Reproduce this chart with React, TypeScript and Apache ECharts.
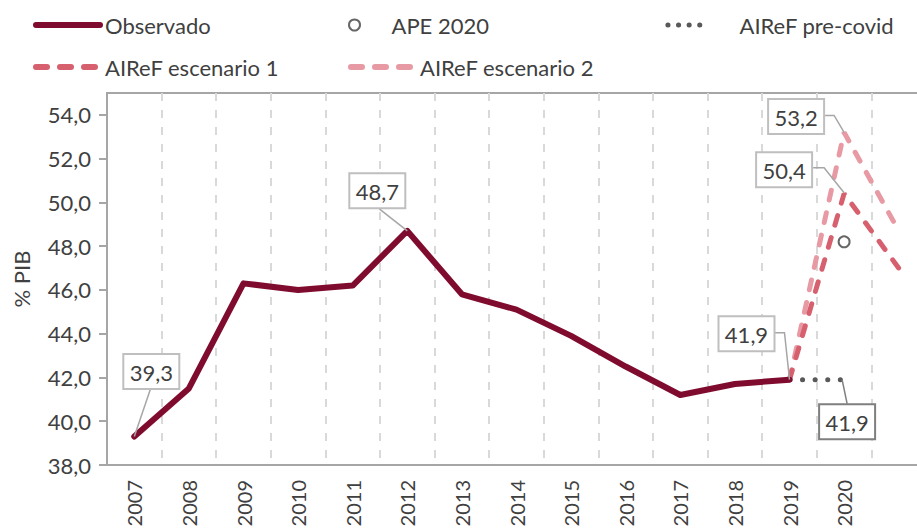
import React, { useEffect, useRef } from "react";
import * as echarts from "echarts";

const years = ["2007", "2008", "2009", "2010", "2011", "2012", "2013", "2014", "2015", "2016", "2017", "2018", "2019", "2020", "2021"];
const observado = [39.3, 41.5, 46.3, 46.0, 46.2, 48.7, 45.8, 45.1, 43.9, 42.5, 41.2, 41.7, 41.9, null, null];
const ape2020 = [null, null, null, null, null, null, null, null, null, null, null, null, null, 48.2, null];
const preCovid = [null, null, null, null, null, null, null, null, null, null, null, null, 41.9, 41.9, null];
const escenario1 = [null, null, null, null, null, null, null, null, null, null, null, null, 41.9, 50.4, 47.0];
const escenario2 = [null, null, null, null, null, null, null, null, null, null, null, null, 41.9, 53.2, 48.7];
const yTicks = [38, 40, 42, 44, 46, 48, 50, 52, 54];

const NAMES = {
  obs: "Observado",
  ape: "APE 2020",
  pre: "AIReF pre-covid",
  e1: "AIReF escenario 1",
  e2: "AIReF escenario 2",
};

// annotation placement (relative to the data point, in px) — styling only
const annotations = [
  { data: observado, idx: 0, dx: 17, dy: -65, leader: [[16, -47], [0, 0]], dark: false },
  { data: observado, idx: 5, dx: -30, dy: -40, leader: [[-28, -22], [0, 0]], dark: false },
  { data: observado, idx: 12, dx: -43, dy: -46, leader: [[-15, -47], [-5, -47], [0, 0]], dark: false },
  { data: preCovid, idx: 13, dx: 3, dy: 42, leader: [[-2, 0], [3, 24]], dark: true },
  { data: escenario1, idx: 13, dx: -60, dy: -24, leader: [[-31, -26], [-20, -26], [0, -1]], dark: false },
  { data: escenario2, idx: 13, dx: -48, dy: -16, leader: [[-19, -17], [-10, -17], [0, 0]], dark: false },
];

const FONT = 'Lato, "Open Sans", "DejaVu Sans", sans-serif';
const TXT = "#404040";
const C_OBS = "#7f0c2e";
const C_E1 = "#d7606f";
const C_E2 = "#e89aa4";
const C_PRE = "#595959";

const fmt = (v: number) => v.toFixed(1).replace(".", ",");

export default function App() {
  const ref = useRef<HTMLDivElement>(null);
  useEffect(() => {
    if (!ref.current) return;
    const chart = echarts.init(ref.current, null, { renderer: "svg" });
    const legendText = { fontFamily: FONT, fontSize: 22, color: TXT };
    const hideSym = { opacity: 0 };
    const option: any = {
      animation: false,
      backgroundColor: "#ffffff",
      textStyle: { fontFamily: FONT },
      grid: {
        left: 107, top: 93, right: 14, bottom: 64,
        show: true, borderColor: "#a6a6a6", borderWidth: 2,
        containLabel: false, outerBoundsMode: "none",
      },
      legend: [
        { data: [NAMES.obs], left: 33, top: 14, itemWidth: 64, itemHeight: 12, padding: 0, selectedMode: false, textStyle: legendText,
          itemStyle: hideSym, lineStyle: { width: 6, color: C_OBS, type: "solid", cap: "round" } },
        { data: [NAMES.ape], left: 348, top: 14, itemWidth: 64, itemHeight: 11, padding: 0, selectedMode: false, textStyle: legendText,
          itemStyle: { color: "#ffffff", borderColor: "#404040", borderWidth: 2 } },
        { data: [NAMES.pre], left: 663, top: 14, itemWidth: 44, itemHeight: 12, padding: 0, selectedMode: false,
          textStyle: { ...legendText, padding: [0, 0, 0, 25] },
          itemStyle: hideSym, lineStyle: { width: 5, color: C_PRE, type: [0.1, 10.5], cap: "round" } },
        { data: [NAMES.e1], left: 33, top: 56, itemWidth: 64, itemHeight: 12, padding: 0, selectedMode: false, textStyle: legendText,
          itemStyle: hideSym, lineStyle: { width: 6, color: C_E1, type: [11, 13], cap: "round" } },
        { data: [NAMES.e2], left: 348, top: 56, itemWidth: 64, itemHeight: 12, padding: 0, selectedMode: false, textStyle: legendText,
          itemStyle: hideSym, lineStyle: { width: 6, color: C_E2, type: [11, 13], cap: "round" } },
      ],
      xAxis: {
        type: "category",
        data: years,
        boundaryGap: true,
        axisLine: { lineStyle: { color: "#a6a6a6", width: 2 } },
        axisTick: { show: false },
        axisLabel: {
          rotate: 90,
          margin: 15,
          fontFamily: FONT,
          fontSize: 20,
          color: TXT,
          interval: 0,
          formatter: (v: string) => (v === "2021" ? "" : v),
        },
        splitLine: { show: true, interval: 0, lineStyle: { color: "#d9d9d9", width: 2, type: [8, 9] } },
      },
      yAxis: {
        type: "value",
        min: 38,
        max: 55,
        interval: 2,
        name: "% PIB",
        nameLocation: "middle",
        nameGap: 75,
        nameRotate: 90,
        nameTextStyle: { fontFamily: FONT, fontSize: 22, color: TXT },
        axisLine: { show: true, lineStyle: { color: "#a6a6a6", width: 2 } },
        axisTick: { show: true, length: 8, lineStyle: { color: "#a6a6a6", width: 2 }, customValues: yTicks },
        axisLabel: { fontFamily: FONT, fontSize: 22, color: TXT, margin: 16, customValues: yTicks, formatter: (v: number) => fmt(v) },
        splitLine: { show: false },
      },
      series: [
        {
          name: NAMES.e2,
          type: "line",
          data: escenario2,
          symbol: "none",
          lineStyle: { color: C_E2, width: 5, type: [10, 13], cap: "round" },
          itemStyle: { color: C_E2 },
          z: 3,
        },
        {
          name: NAMES.e1,
          type: "line",
          data: escenario1,
          symbol: "none",
          lineStyle: { color: C_E1, width: 5, type: [10, 13], cap: "round" },
          itemStyle: { color: C_E1 },
          z: 4,
        },
        {
          name: NAMES.pre,
          type: "line",
          data: preCovid,
          symbol: "none",
          lineStyle: { color: C_PRE, width: 5, type: [0.1, 12.5], cap: "round", dashOffset: -13 },
          itemStyle: { color: C_PRE },
          z: 2,
        },
        {
          name: NAMES.obs,
          type: "line",
          data: observado,
          symbol: "none",
          lineStyle: { color: C_OBS, width: 6, cap: "round", join: "round" },
          itemStyle: { color: C_OBS },
          z: 5,
        },
        {
          name: NAMES.ape,
          type: "scatter",
          data: ape2020,
          symbol: "circle",
          symbolSize: 11,
          itemStyle: { color: "#ffffff", borderColor: "#404040", borderWidth: 2 },
          z: 6,
        },
      ],
    };
    chart.setOption(option);

    const graphics: any[] = [];
    annotations.forEach((a) => {
      const v = a.data[a.idx] as number;
      const p = chart.convertToPixel({ gridIndex: 0 } as any, [a.idx, v]) as number[];
      const px = p[0];
      const py = p[1];
      const stroke = a.dark ? "#7f7f7f" : "#a6a6a6";
      graphics.push({
        type: "polyline",
        z: 100,
        shape: { points: a.leader.map((q) => [px + q[0], py + q[1]]) },
        style: { stroke, lineWidth: 1.5, fill: null },
        silent: true,
      });
      const w = 56;
      const h = 35;
      const cx = px + a.dx;
      const cy = py + a.dy;
      graphics.push({
        type: "rect",
        z: 101,
        shape: { x: cx - w / 2, y: cy - h / 2, width: w, height: h },
        style: { fill: "#ffffff", stroke: a.dark ? "#7f7f7f" : "#bfbfbf", lineWidth: 2 },
        silent: true,
      });
      graphics.push({
        type: "text",
        z: 102,
        x: cx,
        y: cy + 1,
        style: { text: fmt(v), fontFamily: FONT, fontSize: 22, fill: TXT, align: "center", verticalAlign: "middle" },
        silent: true,
      });
    });
    chart.setOption({ graphic: graphics });

    return () => chart.dispose();
  }, []);

  return (
    <div style={{ position: "fixed", left: 0, top: 0, width: 917, height: 529, overflow: "hidden", background: "#fff" }}>
      <div ref={ref} style={{ width: 940, height: 529 }} />
    </div>
  );
}
